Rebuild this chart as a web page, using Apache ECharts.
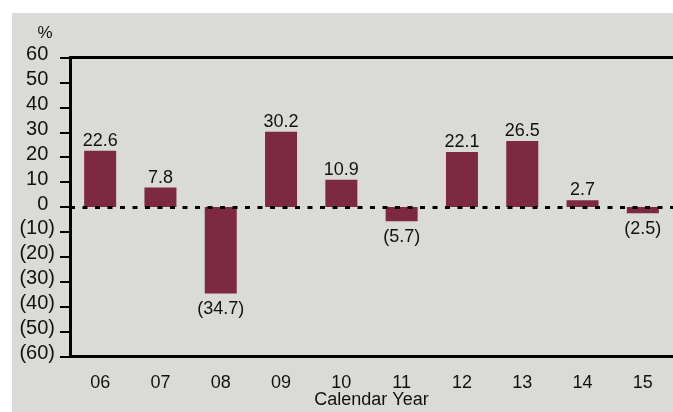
<!DOCTYPE html>
<html>
<head>
<meta charset="utf-8">
<script src="https://cdn.jsdelivr.net/npm/echarts@6/dist/echarts.min.js"></script>
<style>
html,body{margin:0;padding:0;background:#fff;}
#c{width:673px;height:412px;}
</style>
</head>
<body>
<div id="c"></div>
<script>
const categories = ['06','07','08','09','10','11','12','13','14','15'];
const returns = [22.6, 7.8, -34.7, 30.2, 10.9, -5.7, 22.1, 26.5, 2.7, -2.5];
const yTicks = [-60,-50,-40,-30,-20,-10,0,10,20,30,40,50,60];
const xTitle = 'Calendar Year';
const yUnit = '%';

function fmt(v){
  return v < 0 ? '(' + Math.abs(v) + ')' : String(v);
}

const chart = echarts.init(document.getElementById('c'), null, {renderer:'canvas'});
const font = '"Liberation Sans", Arial, sans-serif';

chart.setOption({
  backgroundColor: '#ffffff',
  animation: false,
  graphic: [
    {type:'rect', shape:{x:12, y:13, width:661, height:399}, style:{fill:'#dadad6'}, z:-100, silent:true},
    {type:'text', x:45, y:33, style:{text:yUnit, fontSize:17, fontFamily:font, fill:'#111', align:'center', verticalAlign:'middle'}, z:10},
    {type:'text', x:371.5, y:400, style:{text:xTitle, fontSize:18, fontFamily:font, fill:'#111', align:'center', verticalAlign:'middle'}, z:10}
  ],
  grid: {left:70, right:0, top:57.5, bottom:55.5, containLabel:false, outerBoundsMode:'none'},
  xAxis: [{
    type:'category',
    data: categories,
    position:'bottom',
    axisLine:{show:true, onZero:false, lineStyle:{color:'#000', width:3}},
    axisTick:{show:false},
    axisLabel:{fontSize:18, color:'#111', fontFamily:font, margin:18},
    splitLine:{show:false}
  },{
    type:'category',
    data: categories,
    position:'top',
    axisLine:{show:true, onZero:false, lineStyle:{color:'#000', width:3}},
    axisTick:{show:false},
    axisLabel:{show:false},
    splitLine:{show:false}
  }],
  yAxis: {
    type:'value',
    min: yTicks[0],
    max: yTicks[yTicks.length-1],
    interval: 10,
    axisLine:{show:true, lineStyle:{color:'#000', width:3}},
    axisTick:{show:true, inside:false, length:10, lineStyle:{color:'#000', width:2}},
    splitLine:{show:false},
    axisLabel:{
      fontSize:20, color:'#111', fontFamily:font, margin:15,
      padding:[0,0,6,0],
      formatter: function(v){ return v < 0 ? fmt(v) : v + '{h|)}'; },
      rich:{h:{fontSize:20, fontFamily:font, color:'rgba(0,0,0,0)', padding:[0,0,6,0]}}
    }
  },
  series: [{
    type:'bar',
    data: returns.map(function(v){
      return v < 0 ? {value:v, label:{position:'bottom', distance:7}} : v;
    }),
    barWidth:32,
    itemStyle:{color:'#7c2941'},
    label:{
      show:true,
      fontSize:18, color:'#111', fontFamily:font,
      distance:1,
      position:'top',
      formatter: function(p){ return fmt(p.value); }
    },
    markLine:{
      silent:true,
      symbol:['none','none'],
      label:{show:false},
      lineStyle:{color:'#000', type:[5,7.5], width:3},
      data:[{yAxis:0}],
      z:10
    }
  }]
});
</script>
</body>
</html>
